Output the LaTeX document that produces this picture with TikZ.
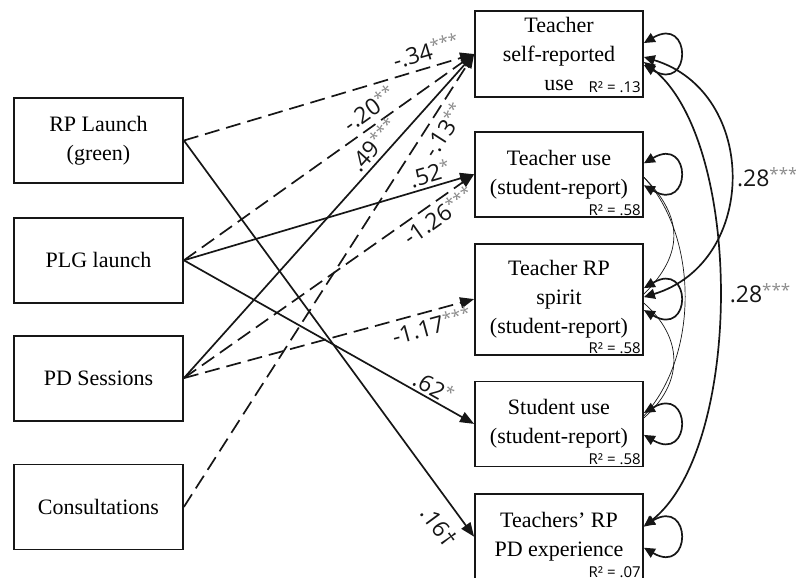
\documentclass[tikz,border=0pt]{standalone}
\usepackage{fontspec}
\setmainfont{Liberation Serif}
\usetikzlibrary{arrows.meta, positioning}
\newfontfamily\coeffont{Open Sans}
\definecolor{ink}{HTML}{161616}
\definecolor{stars}{HTML}{8C8C8C}
\newcommand{\sig}[1]{{\color{stars}\raisebox{6pt}{\fontsize{17}{17}\selectfont #1}}}

\begin{document}
\begin{tikzpicture}[x=1pt, y=-1pt,
  box/.style={rectangle, draw=ink, line width=1.8pt, minimum width=169pt, minimum height=85pt,
    align=center, inner sep=2pt, font=\fontsize{22}{29}\selectfont},
  eff/.style={-{Triangle[length=14pt,width=11pt]}, line width=1.7pt, color=ink},
  negeff/.style={eff, dash pattern=on 15pt off 7pt},
  vloop/.style={{Triangle[length=11pt,width=10pt]}-{Triangle[length=11pt,width=10pt]}, line width=1.7pt, color=ink},
  weak/.style={line width=0.7pt, color=ink},
  coef/.style={font=\coeffont\fontsize{23}{26}\selectfont, sloped, inner sep=2pt},
  rsq/.style={font=\coeffont\fontsize{15}{17}\selectfont, inner sep=1pt, anchor=south east}]
\useasboundingbox (0,0) rectangle (796,578);
% predictors
\node[box] (rp) at (98.5,140.5) {RP Launch\\(green)};
\node[box, below=33pt of rp] (plg) {PLG launch};
\node[box, below=31pt of plg] (pd) {PD Sessions};
\node[box, below=42pt of pd] (cons) {Consultations};
% outcomes
\node[box, minimum width=168pt, minimum height=86pt] (self) at (559,54) {Teacher\\self-reported\\use};
\node[box, minimum width=168pt, below=33pt of self] (tuse) {Teacher use\\(student-report)};
\node[box, minimum width=168pt, minimum height=111pt, below=25pt of tuse] (spirit) {Teacher RP\\spirit\\(student-report)};
\node[box, minimum width=168pt, below=25pt of spirit] (suse) {Student use\\(student-report)};
\node[box, minimum width=168pt, below=26pt of suse] (pdexp) {Teachers' RP\\PD experience};
\node[rsq] (r1) at ([xshift=-2pt,yshift=4pt]self.south east) {R² = .13};
\node[rsq] (r2) at ([xshift=-2pt,yshift=1pt]tuse.south east) {R² = .58};
\node[rsq] (r3) at ([xshift=-2pt,yshift=1pt]spirit.south east) {R² = .58};
\node[rsq] (r4) at ([xshift=-2pt,yshift=1pt]suse.south east) {R² = .58};
\node[rsq] (r5) at ([xshift=-2pt,yshift=1pt]pdexp.south east) {R² = .07};
% paths
\draw[negeff] (rp.east) -- (self.west) node[coef, pos=.85, above=4pt] {-.34\sig{***}};
\draw[eff] (rp.east) -- (pdexp.west) node[coef, pos=.94, below=10pt] {.16†};
\draw[negeff] (plg.east) -- (self.west) node[coef, pos=.67, above=4pt] {-.20\sig{**}};
\draw[eff] (plg.east) -- (tuse.west) node[coef, pos=.86, above=1pt] {.52\sig{*}};
\draw[eff] (plg.east) -- (suse.west) node[coef, pos=.84, above=0pt] {.62\sig{*}};
\draw[eff] (pd.east) -- (self.west) node[coef, pos=.69, above=2pt] {.49\sig{***}};
\draw[negeff] (pd.east) -- (tuse.west) node[coef, pos=.85, below=1pt] {-1.26\sig{***}};
\draw[negeff] (pd.east) -- (spirit.west) node[coef, pos=.84, below=2pt] {-1.17\sig{***}};
\draw[negeff] (cons.east) -- (self.west) node[coef, pos=.85, below=3pt] {-.13\sig{**}};
% residual variances
\draw[vloop] ([yshift=11pt]self.east) .. controls +(48,-28) and +(48,28) .. ([yshift=-11pt]self.east);
\draw[vloop] ([yshift=11pt]tuse.east) .. controls +(48,-28) and +(48,28) .. ([yshift=-11pt]tuse.east);
\draw[vloop] ([yshift=11pt]spirit.east) .. controls +(48,-28) and +(48,28) .. ([yshift=-11pt]spirit.east);
\draw[vloop] ([yshift=11pt]suse.east) .. controls +(48,-28) and +(48,28) .. ([yshift=-11pt]suse.east);
\draw[vloop] ([yshift=11pt]pdexp.east) .. controls +(48,-28) and +(48,28) .. ([yshift=-11pt]pdexp.east);
% covariances
\draw[vloop] ([yshift=-3pt]self.east) .. controls +(115,35) and +(115,-35) .. ([yshift=2pt]spirit.east)
  node[coef, pos=.5, right=4pt, sloped=false] {.28\sig{***}};
\draw[vloop] ([yshift=-8pt]self.east) .. controls +(100,78) and +(100,-80) .. ([yshift=10pt]pdexp.east)
  node[coef, pos=.5, right=8pt, sloped=false] {.28\sig{***}};
\draw[weak] ([yshift=-3pt]tuse.east) .. controls +(40,40) and +(40,-40) .. ([yshift=5pt]spirit.east);
\draw[weak] ([yshift=-3pt]tuse.east) .. controls +(55,60) and +(55,-60) .. ([yshift=8pt]suse.east);
\draw[weak] ([yshift=-4pt]spirit.east) .. controls +(40,35) and +(40,-35) .. ([yshift=6pt]suse.east);
\end{tikzpicture}
\end{document}
